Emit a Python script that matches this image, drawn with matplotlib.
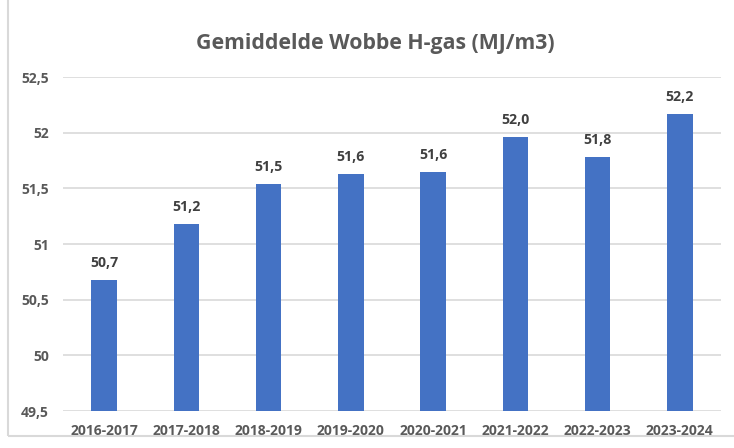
import matplotlib.pyplot as plt
from matplotlib.patches import Rectangle

seasons = ["2016-2017", "2017-2018", "2018-2019", "2019-2020",
           "2020-2021", "2021-2022", "2022-2023", "2023-2024"]
wobbe = [50.68, 51.18, 51.54, 51.63, 51.645, 51.965, 51.78, 52.17]
y_ticks = [49.5, 50, 50.5, 51, 51.5, 52, 52.5]
y_tick_labels = ["49,5", "50", "50,5", "51", "51,5", "52", "52,5"]

plt.rcParams['font.family'] = ['Open Sans', 'DejaVu Sans']
text_grey = '#595959'

fig = plt.figure(figsize=(7.34, 4.48), dpi=100)
ax = fig.add_axes([63 / 734, 1 - 411 / 448, (721 - 63) / 734, (411 - 77) / 448])

x = range(len(seasons))
bars = ax.bar(x, wobbe, width=0.31, color='#4472C4', zorder=3)

for xi, v in zip(x, wobbe):
    ax.annotate(f"{v:.1f}".replace('.', ','), (xi, v), xytext=(0, 7),
                textcoords='offset points', ha='center', va='bottom',
                fontsize=10.2, fontweight='bold', color='#404040')

ax.set_xlim(-0.5, len(seasons) - 0.5)
ax.set_ylim(49.5, 52.5)
ax.set_yticks(y_ticks)
ax.set_yticklabels(y_tick_labels)
ax.set_xticks(list(x))
ax.set_xticklabels(seasons)
ax.tick_params(axis='both', length=0, labelsize=10, labelcolor=text_grey)
ax.tick_params(axis='y', pad=10)
ax.tick_params(axis='x', pad=9)
for lab in ax.get_xticklabels() + ax.get_yticklabels():
    lab.set_fontweight('bold')

ax.grid(axis='y', color='#d9d9d9', linewidth=1.2, zorder=0)
for side in ['top', 'right', 'left', 'bottom']:
    ax.spines[side].set_visible(False)

fig.text(375 / 734, 1 - 43 / 448, "Gemiddelde Wobbe H-gas (MJ/m3)", ha='center',
         va='center', fontsize=15.3, fontweight='bold', color=text_grey)

# chart frame as in the Excel screenshot
fig.patches.append(Rectangle((8, 12), 740, 450, transform=None, fill=False,
                             edgecolor='#d9d9d9', linewidth=1.5))

fig.savefig("out.png", dpi=100)
